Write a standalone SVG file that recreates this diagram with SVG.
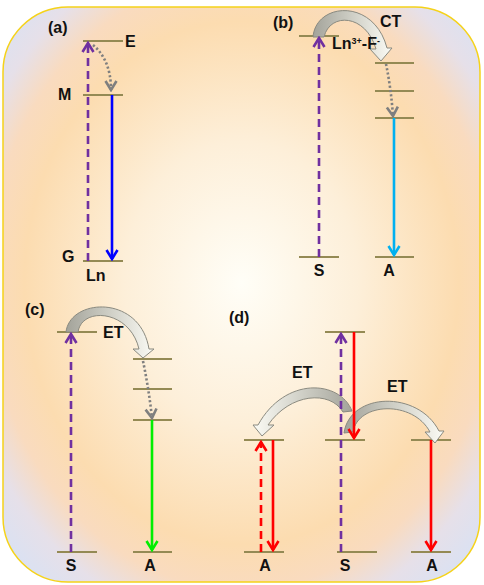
<svg xmlns="http://www.w3.org/2000/svg" width="484" height="585" viewBox="0 0 484 585">
<style>
.lv{stroke:#948a54;stroke-width:1.8;fill:none}
.t{font-family:"Liberation Sans",Arial,sans-serif;font-weight:bold;font-size:16px;fill:#111}
.tm{text-anchor:middle}
.pu{stroke:#7030a0;stroke-width:2.6;stroke-dasharray:8,5;fill:none}
.rd{stroke:#ff0000;stroke-width:2.6;stroke-dasharray:8,5;fill:none}
.gy{stroke:#7f7f7f;stroke-width:2.6;stroke-dasharray:2.2,2.2;fill:none}
.bl{stroke:#0000ff;stroke-width:2.6;fill:none}
.cy{stroke:#00b0f0;stroke-width:2.6;fill:none}
.gr{stroke:#00ee00;stroke-width:2.6;fill:none}
.re{stroke:#ff0000;stroke-width:2.6;fill:none}
.blk{stroke:#8a8a80;stroke-width:1}
</style>
<defs>
<radialGradient id="bg" cx="0.5" cy="0.48" r="0.7">
<stop offset="0" stop-color="#fffef7"/>
<stop offset="0.35" stop-color="#fdefd9"/>
<stop offset="0.65" stop-color="#fcdcb0"/>
<stop offset="0.76" stop-color="#f9dbbf"/>
<stop offset="0.86" stop-color="#e6e0e9"/>
<stop offset="1" stop-color="#d6e2f6"/>
</radialGradient>
<linearGradient id="gL2R" x1="0" y1="0" x2="1" y2="0">
<stop offset="0" stop-color="#a3a39a"/>
<stop offset="0.5" stop-color="#cfcfc6"/>
<stop offset="1" stop-color="#fbfbf5"/>
</linearGradient>
<linearGradient id="gR2L" x1="1" y1="0" x2="0" y2="0">
<stop offset="0" stop-color="#a3a39a"/>
<stop offset="0.5" stop-color="#cfcfc6"/>
<stop offset="1" stop-color="#fbfbf5"/>
</linearGradient>
<marker id="mPu" markerUnits="userSpaceOnUse" viewBox="-12 -8 14 16" markerWidth="14" markerHeight="16" refX="0" refY="0" orient="auto"><path d="M-9,-5.5 L0,0 L-9,5.5" fill="none" stroke="#7030a0" stroke-width="2.6"/></marker>
<marker id="mBl" markerUnits="userSpaceOnUse" viewBox="-12 -8 14 16" markerWidth="14" markerHeight="16" refX="0" refY="0" orient="auto"><path d="M-9,-5.5 L0,0 L-9,5.5" fill="none" stroke="#0000ff" stroke-width="2.6"/></marker>
<marker id="mCy" markerUnits="userSpaceOnUse" viewBox="-12 -8 14 16" markerWidth="14" markerHeight="16" refX="0" refY="0" orient="auto"><path d="M-9,-5.5 L0,0 L-9,5.5" fill="none" stroke="#00b0f0" stroke-width="2.6"/></marker>
<marker id="mGr" markerUnits="userSpaceOnUse" viewBox="-12 -8 14 16" markerWidth="14" markerHeight="16" refX="0" refY="0" orient="auto"><path d="M-9,-5.5 L0,0 L-9,5.5" fill="none" stroke="#00ee00" stroke-width="2.6"/></marker>
<marker id="mRe" markerUnits="userSpaceOnUse" viewBox="-12 -8 14 16" markerWidth="14" markerHeight="16" refX="0" refY="0" orient="auto"><path d="M-9,-5.5 L0,0 L-9,5.5" fill="none" stroke="#ff0000" stroke-width="2.6"/></marker>
<marker id="mGy" markerUnits="userSpaceOnUse" viewBox="-12 -8 14 16" markerWidth="14" markerHeight="16" refX="0" refY="0" orient="auto"><path d="M-9,-5.5 L0,0 L-9,5.5" fill="none" stroke="#7f7f7f" stroke-width="2.6"/></marker>
</defs>

<rect id="background" x="3" y="7" width="477" height="575" rx="65" ry="65" fill="url(#bg)" stroke="#f5d21a" stroke-width="1.5"/>

<g id="labels">
<text class="t" x="48" y="33">(a)</text>
<text class="t" x="273" y="28">(b)</text>
<text class="t" x="25" y="315">(c)</text>
<text class="t" x="229" y="323">(d)</text>
</g>

<!-- panel (a) -->
<g id="a-E"><line class="lv" x1="83" y1="41" x2="123" y2="41"/><text class="t" x="125" y="47">E</text></g>
<g id="a-M"><line class="lv" x1="83" y1="95" x2="123" y2="95"/><text class="t" x="58" y="100">M</text></g>
<g id="a-G"><line class="lv" x1="83" y1="261" x2="123" y2="261"/><text class="t" x="62" y="262">G</text><text class="t" x="86" y="281">Ln</text></g>

<!-- panel (b) -->
<g id="b-S"><line class="lv" x1="299" y1="36" x2="339" y2="36"/><line class="lv" x1="299" y1="257" x2="339" y2="257"/><text class="t tm" x="319" y="276">S</text></g>
<g id="b-A"><line class="lv" x1="375" y1="63" x2="414" y2="63"/><line class="lv" x1="375" y1="91" x2="414" y2="91"/><line class="lv" x1="375" y1="118" x2="414" y2="118"/><line class="lv" x1="375" y1="257" x2="414" y2="257"/><text class="t tm" x="389" y="276">A</text></g>

<!-- panel (c) -->
<g id="c-S"><line class="lv" x1="57" y1="332" x2="97" y2="332"/><line class="lv" x1="57" y1="552" x2="97" y2="552"/><text class="t tm" x="71" y="571">S</text></g>
<g id="c-A"><line class="lv" x1="133" y1="359" x2="172" y2="359"/><line class="lv" x1="133" y1="389" x2="172" y2="389"/><line class="lv" x1="133" y1="420" x2="172" y2="420"/><line class="lv" x1="133" y1="552" x2="172" y2="552"/><text class="t tm" x="150" y="571">A</text></g>

<!-- panel (d) -->
<g id="d-A1"><line class="lv" x1="244" y1="440" x2="284" y2="440"/><line class="lv" x1="244" y1="552" x2="284" y2="552"/><text class="t tm" x="265" y="571">A</text></g>
<g id="d-S"><line class="lv" x1="325" y1="332" x2="365" y2="332"/><line class="lv" x1="325" y1="440" x2="365" y2="440"/><line class="lv" x1="337" y1="552" x2="377" y2="552"/><text class="t tm" x="345" y="571">S</text></g>
<g id="d-A2"><line class="lv" x1="411" y1="440" x2="451" y2="440"/><line class="lv" x1="411" y1="552" x2="451" y2="552"/><text class="t tm" x="432" y="571">A</text></g>

<g id="connectors">
<path class="blk" fill="url(#gL2R)" d="M313,37 C316,2 374,-2 387,48 L392,48 L381,61 L370,49 L376,49 C366,14 330,12 324,37 Z"/>
<text class="t" x="380" y="27">CT</text>
<text class="t" font-size="13" x="332" y="49">Ln<tspan font-size="9" dy="-5">3+</tspan><tspan dy="5">-F</tspan><tspan font-size="9" dy="-5">-</tspan></text>

<path class="blk" fill="url(#gL2R)" d="M66,332 C70,298 140,294 149,349 L154,349 L143,358 L133,349 L139,349 C130,310 82,306 78,332 Z"/>
<text class="t" x="103" y="338">ET</text>

<path class="blk" fill="url(#gR2L)" d="M352,411 C340,380 285,376 258,425 L253,425 L262,436 L274,425 L268,425 C290,393 330,390 343,412 Z"/>
<text class="t" x="292" y="378">ET</text>
<path class="blk" fill="url(#gL2R)" d="M344,433 C350,392 418,390 439,431 L444,431 L435,443 L425,432 L430,432 C413,400 358,402 353,432 Z"/>
<text class="t" x="387" y="392">ET</text>

<line class="pu" x1="88" y1="261" x2="88" y2="43" marker-end="url(#mPu)"/>
<line class="bl" x1="112" y1="95" x2="112" y2="259" marker-end="url(#mBl)"/>
<path class="gy" d="M93,45 Q111,60 111,90" marker-end="url(#mGy)"/>

<line class="pu" x1="319" y1="257" x2="319" y2="38" marker-end="url(#mPu)"/>
<line class="cy" x1="394" y1="118" x2="394" y2="255" marker-end="url(#mCy)"/>
<path class="gy" d="M386,64 Q391,88 393,116" marker-end="url(#mGy)"/>

<line class="pu" x1="71" y1="552" x2="71" y2="334" marker-end="url(#mPu)"/>
<line class="gr" x1="152" y1="420" x2="152" y2="550" marker-end="url(#mGr)"/>
<path class="gy" d="M143,361 Q149,390 152,418" marker-end="url(#mGy)"/>

<line class="pu" x1="341" y1="552" x2="341" y2="334" marker-end="url(#mPu)"/>
<line class="re" x1="354" y1="332" x2="354" y2="438" marker-end="url(#mRe)"/>
<line class="rd" x1="261" y1="552" x2="261" y2="442" marker-end="url(#mRe)"/>
<line class="re" x1="273" y1="440" x2="273" y2="550" marker-end="url(#mRe)"/>
<line class="re" x1="431" y1="440" x2="431" y2="550" marker-end="url(#mRe)"/>
</g>
</svg>
